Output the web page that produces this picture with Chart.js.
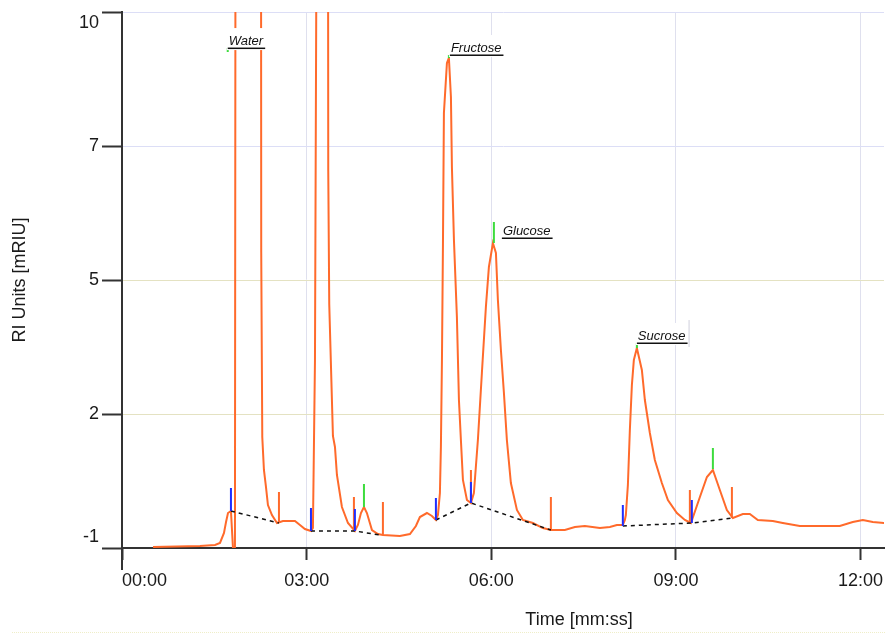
<!DOCTYPE html>
<html>
<head>
<meta charset="utf-8">
<script src="https://cdn.jsdelivr.net/npm/chart.js@4.4.1/dist/chart.umd.min.js"></script>
<style>
  html, body { margin: 0; padding: 0; background: #fff; }
  #wrap { width: 885px; height: 637px; }
</style>
</head>
<body>
<div id="wrap"><canvas id="myChart" width="885" height="637"></canvas></div>
<script>
// Chromatogram data (time in minutes, RI units)
const timeMin = [0.504, 1.267, 1.511, 1.592, 1.657, 1.690, 1.722, 1.770, 1.803, 1.835,
  1.845, 2.047, 2.258, 2.262, 2.279, 2.306, 2.339, 2.371, 2.436, 2.518,
  2.615, 2.810, 2.891, 2.972, 3.070, 3.102, 3.135, 3.167, 3.249, 3.346,
  3.351, 3.367, 3.427, 3.460, 3.492, 3.573, 3.671, 3.784, 3.833, 3.882,
  3.931, 3.979, 4.061, 4.158, 4.239, 4.515, 4.678, 4.775, 4.840, 4.954,
  5.035, 5.100, 5.133, 5.165, 5.181, 5.198, 5.214, 5.230, 5.279, 5.311,
  5.344, 5.360, 5.393, 5.441, 5.474, 5.506, 5.539, 5.604, 5.669, 5.717,
  5.782, 5.847, 5.912, 5.961, 6.026, 6.075, 6.107, 6.156, 6.205, 6.253,
  6.318, 6.416, 6.513, 6.676, 6.838, 6.968, 7.195, 7.358, 7.520, 7.764,
  7.926, 8.040, 8.137, 8.170, 8.186, 8.219, 8.251, 8.284, 8.316, 8.365,
  8.446, 8.495, 8.576, 8.657, 8.771, 8.869, 9.015, 9.145, 9.243, 9.389,
  9.503, 9.600, 9.713, 9.827, 9.925, 10.087, 10.200, 10.330, 10.574, 10.736,
  11.012, 11.662, 11.873, 12.036, 12.198, 12.393];
const riUnits = [-0.979, -0.959, -0.938, -0.897, -0.692, -0.466, -0.282, -0.241, -1.0, -1.0,
  14, 40, 14, 5.07, 1.278, 0.601, 0.252, -0.118, -0.323, -0.487,
  -0.446, -0.446, -0.528, -0.610, -0.651, -0.590, 2.838, 14, 40, 14,
  6.737, 4.008, 1.299, 1.073, 0.498, -0.159, -0.487, -0.651, -0.528, -0.282,
  -0.159, -0.282, -0.631, -0.713, -0.733, -0.754, -0.713, -0.549, -0.364, -0.282,
  -0.343, -0.425, -0.323, 0.129, 1.073, 2.858, 5.177, 7.927, 8.953, 9.056,
  8.256, 6.819, 5.321, 3.741, 2.037, 1.216, 0.396, -0.015, -0.076, 0.129,
  1.216, 2.591, 3.946, 4.767, 5.259, 5.054, 4.090, 3.064, 2.181, 1.216,
  0.334, -0.220, -0.425, -0.487, -0.590, -0.631, -0.631, -0.569, -0.549, -0.590,
  -0.569, -0.528, -0.528, -0.425, -0.323, 0.293, 1.422, 2.345, 2.858, 3.105,
  2.653, 2.037, 1.360, 0.806, 0.334, -0.015, -0.282, -0.425, -0.487, 0.047,
  0.457, 0.601, 0.190, -0.220, -0.384, -0.302, -0.302, -0.425, -0.446, -0.487,
  -0.549, -0.549, -0.466, -0.425, -0.466, -0.487];

// integration markers: [time, low, high]
const startMarks = [[1.770, -0.241, 0.231], [3.070, -0.651, -0.179], [3.784, -0.651, -0.200],
  [5.100, -0.425, 0.026], [5.669, -0.076, 0.354], [8.137, -0.549, -0.118], [9.258, -0.487, -0.015]];
const endMarks = [[2.550, -0.487, 0.149], [3.768, -0.651, 0.047], [4.239, -0.733, -0.056],
  [5.669, -0.076, 0.601], [6.968, -0.631, 0.047], [9.226, -0.487, 0.190], [9.909, -0.384, 0.252]];
const apexMarks = [[3.931, -0.159, 0.313], [6.042, 5.259, 5.690], [9.600, 0.621, 1.052],
  [1.718, 9.179, 9.261], [5.311, 9.056, 9.118], [8.365, 3.105, 3.207]];

// baselines (null = gap)
const baseT = [1.770, 2.550, null, 3.070, 3.784, 4.190, null, 5.100, 5.669, 6.968, null, 8.137, 9.258, 9.909];
const baseV = [-0.241, -0.487, null, -0.651, -0.651, -0.733, null, -0.425, -0.076, -0.631, null, -0.549, -0.487, -0.384];

// peak names
const peakNames = ["Water", "Fructose", "Glucose", "Sucrose"];
const peakLabelT = [1.718, 5.327, 6.172, 8.365];
const peakLabelV = [9.26, 9.118, 5.362, 3.207];

// axes
const yTickValues = [-1, 1.75, 4.5, 7.25, 10];
const yTickLabels = ["-1", "2", "5", "7", "10"];
const xTickValues = [0, 3, 6, 9, 12];
const xTickLabels = ["00:00", "03:00", "06:00", "09:00", "12:00"];

const FONT = '"Liberation Sans", Arial, sans-serif';
const TXT = "#1a1a1a";

function markData(marks) {
  const out = [];
  marks.forEach((m) => {
    out.push({ x: m[0], y: m[1] }, { x: m[0], y: m[2] }, { x: m[0], y: null });
  });
  return out;
}

const extras = {
  id: "extras",
  afterDatasetsDraw(chart) {
    const { ctx, scales } = chart;
    ctx.save();
    peakNames.forEach((name, i) => {
      const px = scales.x.getPixelForValue(peakLabelT[i]);
      const py = scales.y.getPixelForValue(peakLabelV[i]);
      ctx.font = "italic 13px " + FONT;
      const w = ctx.measureText(name).width;
      ctx.fillStyle = "#fff";
      ctx.fillRect(px - 1, py - 20, w + 5, 22);
      if (name === "Sucrose") {
        ctx.fillStyle = "#d0d0dc";
        ctx.fillRect(px + w + 4, py - 23, 1, 27);
      }
      ctx.fillStyle = "#111";
      ctx.textAlign = "left";
      ctx.textBaseline = "alphabetic";
      ctx.fillText(name, px + 1, py - 3);
      ctx.fillRect(px, py - 0.5, w + 3, 1.5);
    });
    ctx.restore();
  },
  afterDraw(chart) {
    const { ctx, chartArea } = chart;
    ctx.save();
    // y axis runs on below the x axis
    ctx.strokeStyle = "#333";
    ctx.lineWidth = 2;
    ctx.beginPath();
    ctx.moveTo(chartArea.left, chartArea.bottom);
    ctx.lineTo(chartArea.left, chartArea.bottom + 22);
    ctx.stroke();
    // x axis title
    ctx.fillStyle = TXT;
    ctx.font = "18px " + FONT;
    ctx.textAlign = "center";
    ctx.textBaseline = "middle";
    ctx.fillText("Time [mm:ss]", 579, 620);
    // faint panel edge
    ctx.strokeStyle = "#efeec8";
    ctx.lineWidth = 1;
    ctx.setLineDash([1, 1]);
    ctx.beginPath();
    ctx.moveTo(12, 632.5);
    ctx.lineTo(885, 632.5);
    ctx.stroke();
    ctx.restore();
  },
};

const ctx = document.getElementById("myChart");
new Chart(ctx, {
  type: "scatter",
  data: {
    datasets: [
      {
        label: "RI",
        data: timeMin.map((t, i) => ({ x: t, y: riUnits[i] })),
        showLine: true,
        borderColor: "#ff6a2b",
        borderWidth: 2,
        pointRadius: 0,
        order: 2,
      },
      {
        label: "baseline",
        data: baseT.map((t, i) => ({ x: t === null ? 0 : t, y: baseV[i] })),
        showLine: true,
        borderColor: "#111",
        borderWidth: 1.5,
        borderDash: [4, 4],
        pointRadius: 0,
        order: 1,
      },
      {
        label: "end",
        data: markData(endMarks),
        showLine: true,
        borderColor: "#ff6a2b",
        borderWidth: 2,
        pointRadius: 0,
        order: 1,
      },
      {
        label: "start",
        data: markData(startMarks),
        showLine: true,
        borderColor: "#1f2dff",
        borderWidth: 2,
        pointRadius: 0,
        order: 0,
      },
      {
        label: "apex",
        data: markData(apexMarks),
        showLine: true,
        borderColor: "#3ddc3d",
        borderWidth: 2,
        pointRadius: 0,
        order: 0,
      },
    ],
  },
  options: {
    responsive: false,
    animation: false,
    devicePixelRatio: 1,
    layout: { padding: { top: 12, right: 1, left: 0, bottom: 0 } },
    plugins: { legend: { display: false }, tooltip: { enabled: false } },
    scales: {
      x: {
        type: "linear",
        min: 0,
        max: 12.38,
        afterBuildTicks: (s) => {
          s.ticks = xTickValues.map((v) => ({ value: v }));
        },
        afterFit: (s) => {
          s.height = 89;
          s.paddingLeft = 0;
          s.paddingRight = 0;
        },
        ticks: {
          autoSkip: false,
          maxRotation: 0,
          minRotation: 0,
          padding: 10,
          color: TXT,
          font: { family: FONT, size: 18 },
          callback: (v, i) => (i === 0 ? " ".repeat(9) + xTickLabels[i] : xTickLabels[i]),
        },
        grid: {
          color: (c) => (c.tick && c.tick.value === 0 ? "rgba(0,0,0,0)" : "#dfe0ee"),
          lineWidth: 1,
          tickLength: 12,
          tickColor: "#333",
          tickWidth: 2,
        },
        border: { color: "#333", width: 2 },
      },
      y: {
        type: "linear",
        min: -1,
        max: 10,
        afterBuildTicks: (s) => {
          s.ticks = yTickValues.map((v) => ({ value: v }));
        },
        afterFit: (s) => {
          s.width = 122;
          s.paddingTop = 0;
          s.paddingBottom = 0;
        },
        ticks: {
          padding: 3,
          color: TXT,
          font: { family: FONT, size: 18 },
          callback: (v, i) => {
            if (i === 0) return [yTickLabels[i], ""];
            if (i === yTickLabels.length - 1) return ["", yTickLabels[i]];
            return yTickLabels[i];
          },
        },
        grid: {
          color: (c) => {
            if (!c.tick) return "#ddd";
            const v = c.tick.value;
            if (v === -1) return "rgba(0,0,0,0)";
            if (v === 1.75 || v === 4.5) return "#e4e2c2";
            return "#dcdef6";
          },
          lineWidth: 1,
          tickLength: 20,
          tickColor: "#333",
          tickWidth: 2,
        },
        border: { color: "#333", width: 2 },
        title: {
          display: true,
          text: "RI Units [mRIU]",
          color: TXT,
          font: { family: FONT, size: 18 },
          padding: { top: 9, bottom: 0 },
        },
      },
    },
  },
  plugins: [extras],
});
</script>
</body>
</html>
